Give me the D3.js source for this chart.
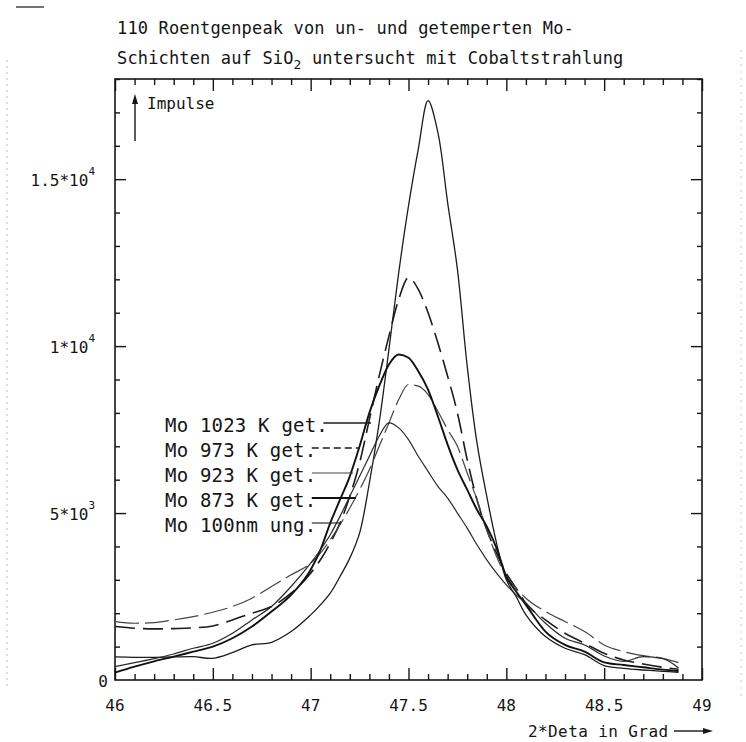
<!DOCTYPE html>
<html><head><meta charset="utf-8">
<script src="https://cdn.jsdelivr.net/npm/d3@7"></script>
<style>
html,body{margin:0;padding:0;background:#fff;}
svg{display:block;}
text{font-family:"DejaVu Sans Mono",monospace;fill:#151515;}
</style></head><body>
<svg id="chart" width="746" height="742"></svg>
<script>
// ---------- data ----------
const twoTheta = [46.0,46.1,46.2,46.3,46.4,46.5,46.6,46.7,46.8,46.9,47.0,47.05,47.1,47.15,47.2,47.25,47.3,47.35,47.4,47.45,47.5,47.55,47.6,47.65,47.7,47.75,47.8,47.85,47.9,47.95,48.0,48.05,48.1,48.2,48.3,48.4,48.5,48.6,48.7,48.8,48.88];
const mo1023 = [690,680,680,690,700,650,820,1050,1130,1450,1950,2250,2600,3100,3650,4400,5900,7700,9900,12200,14200,15900,17350,16400,14300,12300,9400,7100,5500,4100,3000,2500,1950,1300,950,760,430,350,300,260,230];
const mo973  = [1600,1550,1530,1540,1560,1620,1800,2000,2200,2600,3200,3600,4100,4700,5500,6500,7800,9100,10300,11400,12050,11700,11000,10100,9100,8000,6600,5400,4500,3800,3200,2750,2300,1800,1400,1100,800,600,480,380,320];
const mo923  = [1750,1700,1720,1800,1900,2030,2200,2450,2800,3150,3500,3800,4200,4650,5150,5700,6300,7000,7700,8400,8850,8800,8550,8050,7500,7000,6200,5400,4500,3700,3100,2750,2450,2050,1750,1450,1050,850,730,650,520];
const mo873  = [220,400,560,700,850,1000,1250,1600,2050,2550,3300,3900,4700,5400,6100,7000,8000,8800,9450,9750,9650,9250,8700,7900,7050,6300,5700,5100,4600,3950,3100,2650,2250,1450,1050,850,530,450,380,310,270];
const mo100  = [400,520,640,780,950,1100,1400,1800,2200,2800,3500,3900,4350,4900,5500,6100,6700,7300,7700,7550,7200,6700,6250,5800,5450,5000,4550,4050,3600,3200,2850,2550,2300,1700,1250,1050,720,560,700,640,360];
const seriesLabels = ["Mo 1023 K get.","Mo 973 K get.","Mo 923 K get.","Mo 873 K get.","Mo 100nm ung."];
const xTickLabels = ["46","46.5","47","47.5","48","48.5","49"];
const xTickValues = [46,46.5,47,47.5,48,48.5,49];
const yTickValues = [0,5000,10000,15000];
const yTickMantissa = ["0","5*10","1*10","1.5*10"];
const yTickExponent = ["","3","4","4"];
const titleLine1 = "110 Roentgenpeak von un- und getemperten Mo-";
const titleLine2a = "Schichten auf SiO";
const titleLine2sub = "2";
const titleLine2b = " untersucht mit Cobaltstrahlung";
const yAxisTitle = "Impulse";
const xAxisTitle = "2*Deta in Grad";

// ---------- layout ----------
const svg = d3.select("#chart");
const x = d3.scaleLinear().domain([46,49]).range([115,702]);
const y = d3.scaleLinear().domain([0,18000]).range([680,79]);
const ink = "#161616";

// scan artifacts (faint)
svg.append("line").attr("x1",16).attr("x2",44).attr("y1",7).attr("y2",7).attr("stroke","#444").attr("stroke-width",1.5);
svg.append("line").attr("x1",7).attr("x2",7).attr("y1",60).attr("y2",690).attr("stroke","#bbb").attr("stroke-width",1).attr("stroke-dasharray","2,4");
svg.append("line").attr("x1",741).attr("x2",741).attr("y1",50).attr("y2",700).attr("stroke","#ccc").attr("stroke-width",1).attr("stroke-dasharray","2,5");

// title
svg.append("text").attr("x",117).attr("y",34).attr("font-size",17).attr("letter-spacing",0.15).text(titleLine1);
const t2 = svg.append("text").attr("x",117).attr("y",64).attr("font-size",17).attr("letter-spacing",0.15);
t2.append("tspan").text(titleLine2a);
t2.append("tspan").attr("dy",5).attr("font-size",13).text(titleLine2sub);
t2.append("tspan").attr("dy",-5).attr("font-size",17).text(titleLine2b);

// ticks (inward on all four sides)
function ticks(axisGen, vals, size, tr){
  const g = svg.append("g").attr("transform", tr)
    .call(axisGen.tickValues(vals).tickSize(size).tickFormat(""));
  g.select(".domain").remove();
  g.selectAll(".tick line").attr("stroke",ink).attr("stroke-width",1.4);
}
const xMinor = d3.range(0,31).filter(i=>i%5!==0).map(i=>46+i*0.1);
const yMinor = d3.range(0,19).filter(i=>i%5!==0).map(i=>i*1000);
const yMajor = [5000,10000,15000];
ticks(d3.axisBottom(x), xMinor, -6, "translate(0,680)");
ticks(d3.axisBottom(x), xTickValues, -12, "translate(0,680)");
ticks(d3.axisTop(x), xMinor, -6, "translate(0,79)");
ticks(d3.axisTop(x), xTickValues, -12, "translate(0,79)");
ticks(d3.axisLeft(y), yMinor, -5, "translate(115,0)");
ticks(d3.axisLeft(y), yMajor, -11, "translate(115,0)");
ticks(d3.axisRight(y), yMinor, -5, "translate(702,0)");
ticks(d3.axisRight(y), yMajor, -11, "translate(702,0)");

// frame
svg.append("rect").attr("x",x(46)).attr("y",y(18000)).attr("width",x(49)-x(46)).attr("height",y(0)-y(18000))
  .attr("fill","none").attr("stroke",ink).attr("stroke-width",1.6);

// x tick labels
svg.append("g").selectAll("text").data(xTickValues).join("text")
  .attr("x",d=>x(d)).attr("y",711).attr("text-anchor","middle").attr("font-size",16)
  .text((d,i)=>xTickLabels[i]);

// y tick labels with superscripts
const yl = svg.append("g").selectAll("text").data(yTickValues).join("text")
  .attr("x",(d,i)=> i===0 ? 108 : 95).attr("y",d=>y(d)+7).attr("text-anchor","end").attr("font-size",16);
yl.append("tspan").text((d,i)=>yTickMantissa[i]);
yl.append("tspan").attr("dy",-11).attr("font-size",11).text((d,i)=>yTickExponent[i]);

// axis titles with arrows
svg.append("line").attr("x1",135).attr("x2",135).attr("y1",101).attr("y2",141).attr("stroke",ink).attr("stroke-width",1.4);
svg.append("path").attr("d","M135,94 L132,104 L138,104 Z").attr("fill",ink);
svg.append("text").attr("x",147).attr("y",109).attr("font-size",16).text(yAxisTitle);
svg.append("text").attr("x",528).attr("y",737).attr("font-size",16).attr("letter-spacing",0.4).text(xAxisTitle);
svg.append("line").attr("x1",674).attr("x2",706).attr("y1",731).attr("y2",731).attr("stroke",ink).attr("stroke-width",1.4);
svg.append("path").attr("d","M713,731 L703,728 L703,734 Z").attr("fill",ink);

// series
const seriesData = [mo1023, mo973, mo923, mo873, mo100];
const styles = [
  {w:1.3, c:"#1c1c1c", dash:null},
  {w:1.6, c:"#1c1c1c", dash:"20,8"},
  {w:1.2, c:"#444",    dash:"24,6"},
  {w:1.9, c:"#111",    dash:null},
  {w:1.2, c:"#2a2a2a", dash:null}
];
const lineSmooth = d3.line().x((d,i)=>x(twoTheta[i])).y(d=>y(d)).curve(d3.curveMonotoneX);
const lineSharp = d3.line().x((d,i)=>x(twoTheta[i])).y(d=>y(d)).curve(d3.curveCatmullRom.alpha(0.5));
svg.append("g").selectAll("path").data(seriesData).join("path")
  .attr("d", (d,i)=> i===0 ? lineSharp(d) : lineSmooth(d)).attr("fill","none")
  .attr("stroke",(d,i)=>styles[i].c).attr("stroke-width",(d,i)=>styles[i].w)
  .attr("stroke-dasharray",(d,i)=>styles[i].dash).attr("stroke-linejoin","round");

// legend
const legY = [432,457,482,507,532];
const legEnd = [371,360,353,356,341];
const legDash = [null,"7,4",null,null,null];
const lg = svg.append("g");
lg.selectAll("text").data(seriesLabels).join("text")
  .attr("x",165).attr("y",(d,i)=>legY[i]).attr("font-size",19).attr("letter-spacing",0.2).text(d=>d);
lg.selectAll("line").data(seriesLabels).join("line")
  .attr("x1",(d,i)=> 165 + d.length*11.6 - 4).attr("x2",(d,i)=>legEnd[i])
  .attr("y1",(d,i)=>legY[i]-9).attr("y2",(d,i)=>legY[i]-9)
  .attr("stroke",(d,i)=>styles[i].c).attr("stroke-width",(d,i)=>styles[i].w)
  .attr("stroke-dasharray",(d,i)=>legDash[i]);
</script>
</body></html>
